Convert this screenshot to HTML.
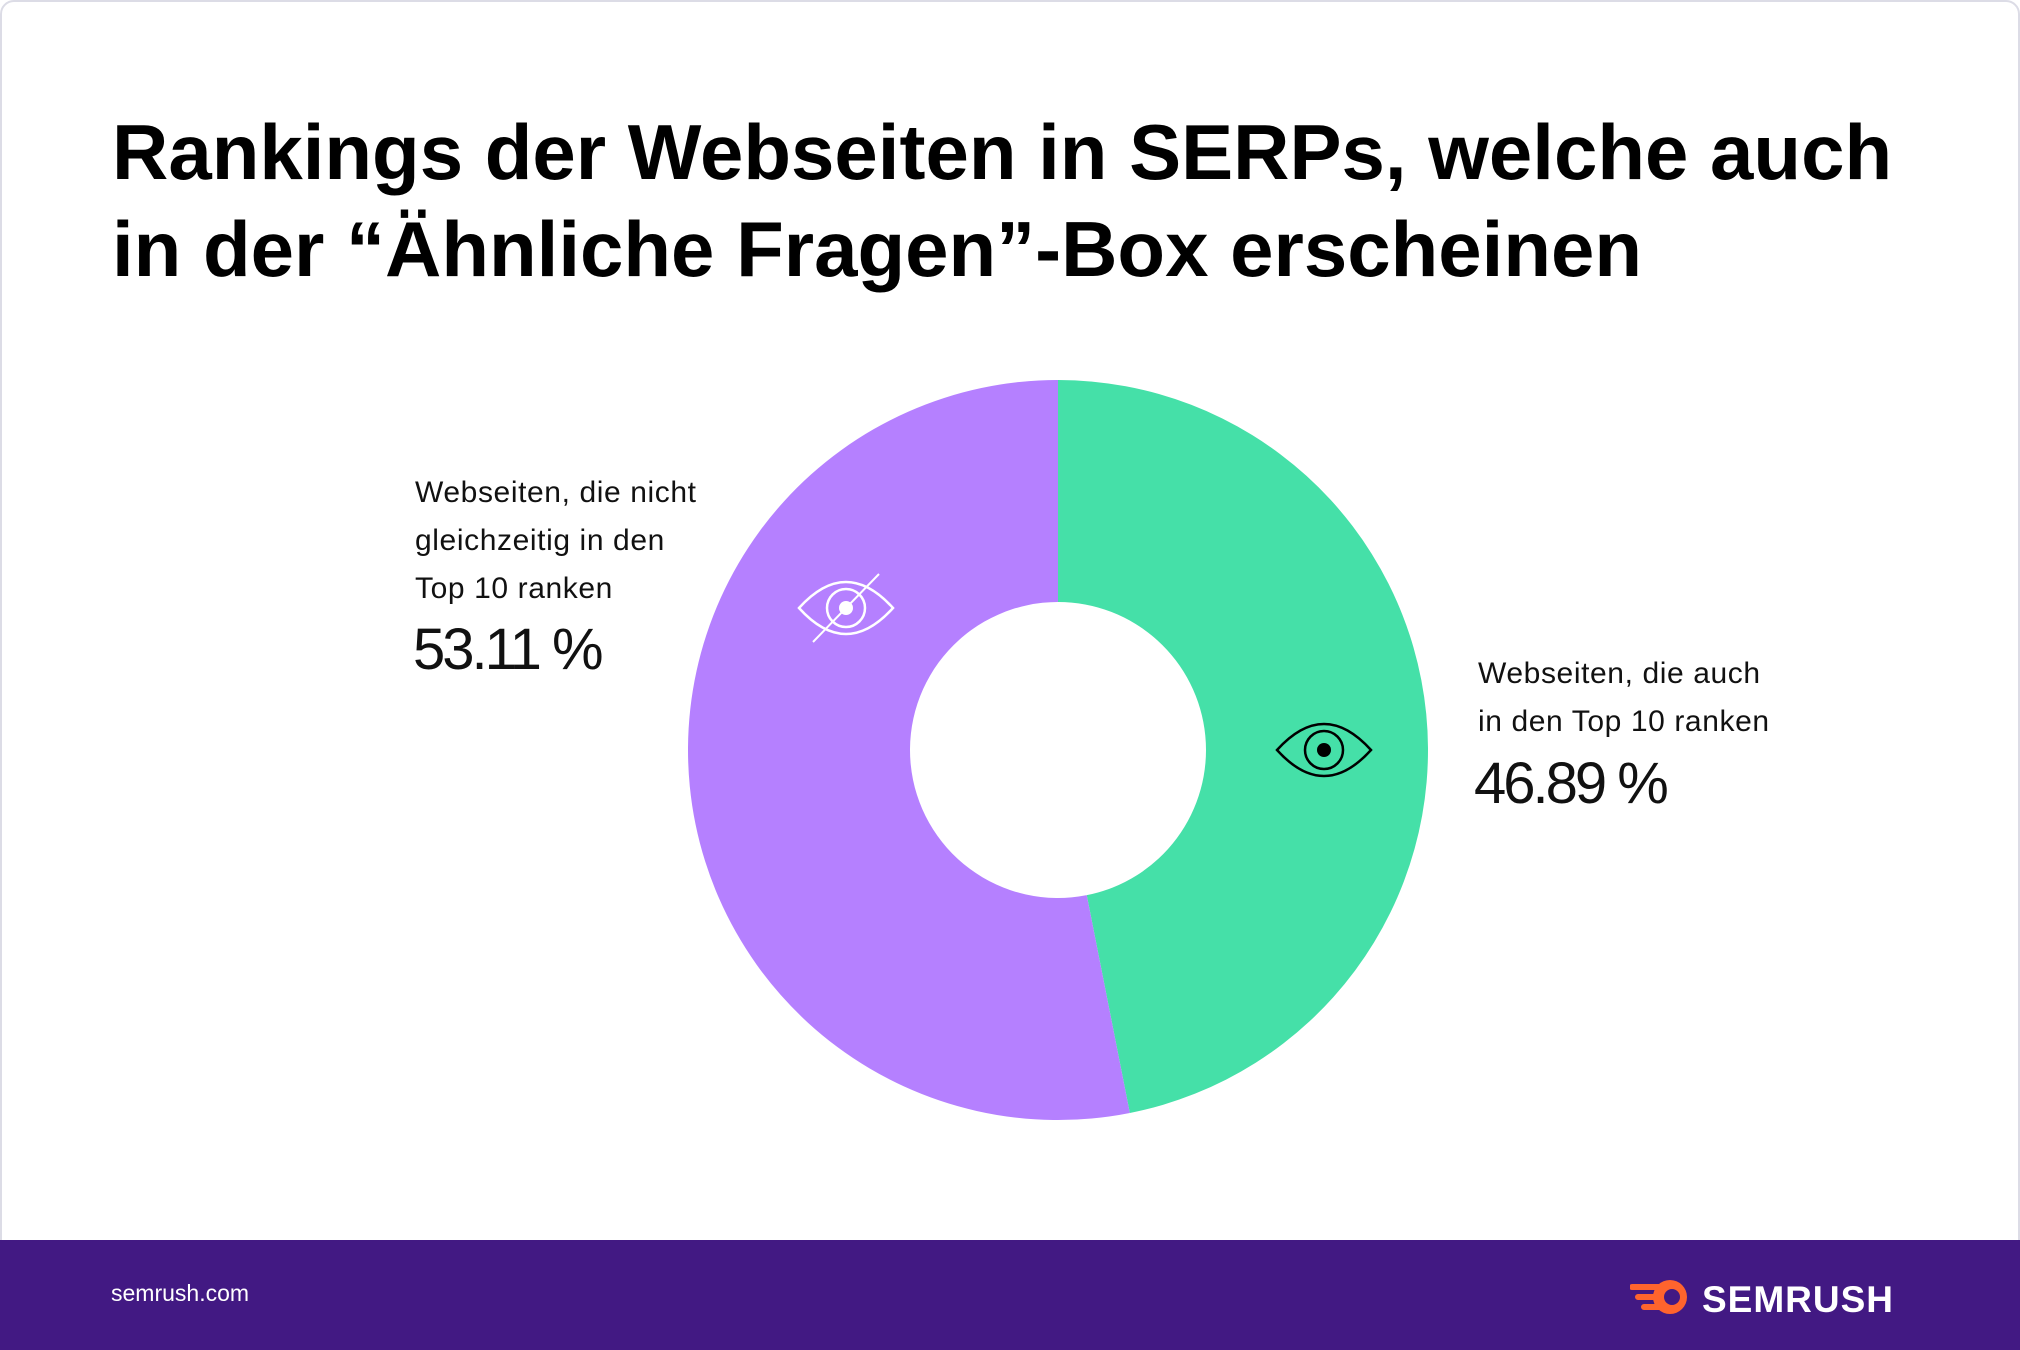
<!DOCTYPE html>
<html><head><meta charset="utf-8">
<style>
html,body{margin:0;padding:0;background:#fff;}
#page{position:relative;width:2020px;height:1350px;overflow:hidden;background:#fff;font-family:"Liberation Sans",sans-serif;}
#card{position:absolute;left:0;top:0;width:2016px;height:1346px;border:2px solid #dcdce6;border-radius:14px;}
h1{position:absolute;left:112px;top:104px;margin:0;font-size:78px;line-height:97px;font-weight:bold;color:#000;letter-spacing:0px;}
.lab{position:absolute;font-size:30px;line-height:48px;color:#111;letter-spacing:0.6px;}
.val{position:absolute;font-size:58px;color:#111;letter-spacing:-3px;}
#footer{position:absolute;left:0;top:1240px;width:2020px;height:110px;background:#421983;}
#site{position:absolute;left:111px;top:1280px;font-size:23px;color:#fff;}
#logo{position:absolute;left:1630px;top:1275px;}
</style></head><body>
<div id="page">
<div id="card"></div>
<h1>Rankings der Webseiten in SERPs, welche auch<br>in der “Ähnliche Fragen”-Box erscheinen</h1>
<svg id="donut" width="2020" height="1350" style="position:absolute;left:0;top:0"></svg>
<div class="lab" style="left:415px;top:469px">Webseiten, die nicht<br>gleichzeitig in den<br>Top 10 ranken</div>
<div class="val" id="v0" style="left:413px;top:616px"></div>
<div class="lab" style="left:1478px;top:650px">Webseiten, die auch<br>in den Top 10 ranken</div>
<div class="val" id="v1" style="left:1474px;top:750px"></div>
<div id="footer"></div>
<div id="site">semrush.com</div>
<svg id="logo" width="300" height="50">
<path d="M2 12 L30 12 M8 22 L28 22 M14 32 L32 32" stroke="#ff642d" stroke-width="6" stroke-linecap="round"/>
<circle cx="40" cy="22" r="17" fill="#ff642d"/><circle cx="42" cy="22" r="8" fill="#421983"/>
<text x="72" y="37" font-family="Liberation Sans" font-weight="bold" font-size="37" letter-spacing="1" fill="#fff">SEMRUSH</text>
</svg>
</div>
<script>
const categories=["Webseiten, die auch in den Top 10 ranken","Webseiten, die nicht gleichzeitig in den Top 10 ranken"];
const values=[46.89,53.11];
const colors=["#45e0a8","#b580ff"];
const labels=["46.89 %","53.11 %"];
const cx=1058,cy=750,R=370,r=148;
const svg=document.getElementById('donut');
const NS="http://www.w3.org/2000/svg";
const total=values.reduce((a,b)=>a+b,0);
function pt(a,rad){return [cx+rad*Math.sin(a),cy-rad*Math.cos(a)];}
let start=0;
values.forEach((v,i)=>{
  const end=start+v/total*2*Math.PI;
  const large=(end-start)>Math.PI?1:0;
  const [x1,y1]=pt(start,R),[x2,y2]=pt(end,R),[x3,y3]=pt(end,r),[x4,y4]=pt(start,r);
  const p=document.createElementNS(NS,'path');
  p.setAttribute('d',`M${x1},${y1} A${R},${R} 0 ${large} 1 ${x2},${y2} L${x3},${y3} A${r},${r} 0 ${large} 0 ${x4},${y4} Z`);
  p.setAttribute('fill',colors[i]);
  
  
  svg.appendChild(p);
  start=end;
});
document.getElementById('v1').textContent=labels[0];
document.getElementById('v0').textContent=labels[1];
function eye(x,y,col,slash){
  const g=document.createElementNS(NS,'g');
  
  
  g.innerHTML=`<path d="M${x-47},${y} Q${x},${y-52} ${x+47},${y} Q${x},${y+52} ${x-47},${y} Z" fill="none" stroke="${col}" stroke-width="2.5"/>
  <circle cx="${x}" cy="${y}" r="19" fill="none" stroke="${col}" stroke-width="2.5"/>
  <circle cx="${x}" cy="${y}" r="7" fill="${col}"/>`+
  (slash?`<line x1="${x-33}" y1="${y+34}" x2="${x+33}" y2="${y-34}" stroke="${col}" stroke-width="2"/>`:'');
  svg.appendChild(g);
}
eye(846,608,'#fff',true);
eye(1324,750,'#000',false);
</script>
</body></html>
